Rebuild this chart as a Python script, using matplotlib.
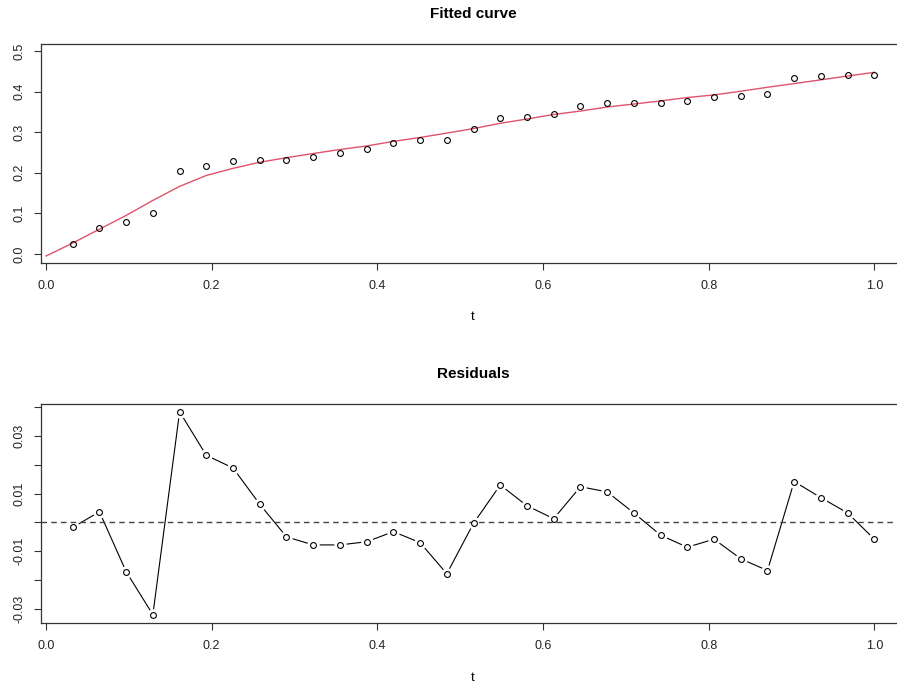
import numpy as np
import matplotlib
matplotlib.use("Agg")
import matplotlib.pyplot as plt

plt.rcParams['font.family'] = ['Liberation Sans', 'DejaVu Sans']

# observation times (k/31)
t_obs = [0.0323, 0.0645, 0.0968, 0.1290, 0.1613, 0.1935, 0.2258, 0.2581, 0.2903, 0.3226,
         0.3548, 0.3871, 0.4194, 0.4516, 0.4839, 0.5161, 0.5484, 0.5806, 0.6129, 0.6452,
         0.6774, 0.7097, 0.7419, 0.7742, 0.8065, 0.8387, 0.8710, 0.9032, 0.9355, 0.9677, 1.0]

y_obs = [0.0254, 0.0648, 0.0780, 0.1000, 0.2050, 0.2167, 0.2299, 0.2323, 0.2323, 0.2397,
         0.2496, 0.2594, 0.2742, 0.2800, 0.2800, 0.3087, 0.3350, 0.3383, 0.3450, 0.3645,
         0.3727, 0.3727, 0.3727, 0.3768, 0.3860, 0.3883, 0.3940, 0.4340, 0.4376, 0.4417, 0.4417]

# fitted curve, starts at t = 0
t_fit = [0.0] + t_obs
y_fit = [-0.0050, 0.0271, 0.0611, 0.0951, 0.1320, 0.1666, 0.1934, 0.2110, 0.2260, 0.2373,
         0.2475, 0.2574, 0.2661, 0.2774, 0.2870, 0.2978, 0.3090, 0.3220, 0.3325, 0.3437,
         0.3521, 0.3621, 0.3694, 0.3771, 0.3854, 0.3918, 0.4009, 0.4107, 0.4198, 0.4290,
         0.4384, 0.4475]

resid = [-0.0017, 0.0037, -0.0171, -0.0320, 0.0384, 0.0233, 0.0189, 0.0063, -0.0050, -0.0078,
         -0.0078, -0.0067, -0.0032, -0.0070, -0.0178, -0.0003, 0.0130, 0.0058, 0.0013, 0.0124,
         0.0106, 0.0033, -0.0044, -0.0086, -0.0058, -0.0126, -0.0167, 0.0142, 0.0086, 0.0033,
         -0.0058]

x_ticks = [0.0, 0.2, 0.4, 0.6, 0.8, 1.0]
top_yticks = [0.0, 0.1, 0.2, 0.3, 0.4, 0.5]
bot_yticks = [-0.03, -0.02, -0.01, 0.0, 0.01, 0.02, 0.03, 0.04]
bot_ylabels = ['-0.03', '', '-0.01', '', '0.01', '', '0.03', '']

W, H = 897, 690
fig = plt.figure(figsize=(W / 100, H / 100), dpi=100)

def px_axes(left, right, top, bottom):
    return fig.add_axes([left / W, 1 - bottom / H, (right - left) / W, (bottom - top) / H])

def style(ax):
    for s in ax.spines.values():
        s.set_color('#333333')
        s.set_linewidth(0.9)
    ax.tick_params(axis='both', direction='out', length=5, width=0.8, color='#333333',
                   labelsize=9, labelcolor='#222222')
    ax.tick_params(axis='x', pad=7)
    ax.tick_params(axis='y', pad=6)
    ax.set_xticks(x_ticks)
    ax.set_xticklabels([f"{v:.1f}" for v in x_ticks])
    ax.set_xlim(-0.0064, 1.0334)
    for lab in ax.get_yticklabels():
        lab.set_rotation(90)
        lab.set_va('center')

# ---- fitted curve ----
ax1 = px_axes(40.7, 902, 43.7, 263.3)
ax1.plot(t_fit, y_fit, color='#DF536B', lw=1.0)
ax1.plot(t_obs, y_obs, 'o', mfc='none', mec='black', mew=0.8, ms=4.2)
ax1.set_ylim(-0.0229, 0.518)
ax1.set_yticks(top_yticks)
ax1.set_yticklabels([f"{v:.1f}" for v in top_yticks])
style(ax1)

# ---- residuals ----
ax2 = px_axes(40.7, 902, 404.3, 623.3)
ax2.plot(t_obs, resid, color='black', lw=0.8, zorder=2)
ax2.plot(t_obs, resid, 'o', mfc='white', mec='none', ms=9, zorder=3)
ax2.axhline(0, color='#444444', lw=1.0, ls=(0, (4, 3)), zorder=4)
ax2.plot(t_obs, resid, 'o', mfc='white', mec='black', mew=0.8, ms=4.2, zorder=5)
ax2.set_ylim(-0.0350, 0.0410)
ax2.set_yticks(bot_yticks)
ax2.set_yticklabels(bot_ylabels)
style(ax2)

fig.text(473 / W, 1 - 13.5 / H, "Fitted curve", ha='center', va='center',
         fontsize=11, fontweight='bold')
fig.text(473 / W, 1 - 373.5 / H, "Residuals", ha='center', va='center',
         fontsize=11, fontweight='bold')
fig.text(473 / W, 1 - 317 / H, "t", ha='center', va='center', fontsize=9.5)
fig.text(473 / W, 1 - 678 / H, "t", ha='center', va='center', fontsize=9.5)

fig.savefig("out.png", dpi=100)
